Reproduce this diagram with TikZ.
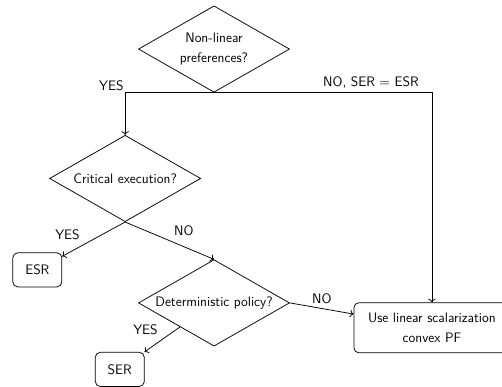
\documentclass[tikz,border=0pt]{standalone}
\usepackage{amsmath,amssymb}
\usepackage{xcolor}
\usepackage{tikz}
\usetikzlibrary{shapes,arrows,positioning,calc,shapes.geometric,arrows.meta}

\begin{document}
\begin{tikzpicture}[
    font=\sffamily\fontsize{11}{16}\selectfont,
    semithick,
    decision/.style={draw, diamond, aspect=1.75, inner sep=0pt, minimum width=4.25cm, minimum height=2.43cm, align=center},
    outcome/.style={draw, rectangle, rounded corners, minimum width=1.38cm, minimum height=0.96cm, align=center}
]
    \useasboundingbox (0,0) rectangle (14.12,-10.88);

    % Questions
    \node[decision] (pref) at (6.02,-1.38) {Non-linear\\preferences?};
    \node[decision] (crit) at (3.52,-5.02) {Critical execution?};
    \node[decision] (det) at (6.02,-8.52) {Deterministic policy?};

    % Outcomes
    \node[outcome] (esr) at (1.05,-7.59) {ESR};
    \node[outcome] (ser) at (3.37,-10.39) {SER};
    \node[outcome, minimum width=4.39cm, minimum height=1.41cm] (linear) at (12.15,-9.22) {Use linear scalarization\\convex PF};

    % Arrows
    \draw[->] (pref.south) -| node[above left, inner sep=1pt] {YES} (crit.north);
    \draw[->] (pref.south) -| node[pos=0.36, above] {NO, SER $=$ ESR} (linear.north);
    \draw[->] (crit.south) -- node[above left, pos=0.65] {YES} (esr);
    \draw[->] (crit.south) -- node[above right] {NO} (det.north);
    \draw[->] (det.east) -- node[above] {NO} (linear);
    \draw[->] (det) -- node[above left] {YES} (ser);
\end{tikzpicture}
\end{document}
